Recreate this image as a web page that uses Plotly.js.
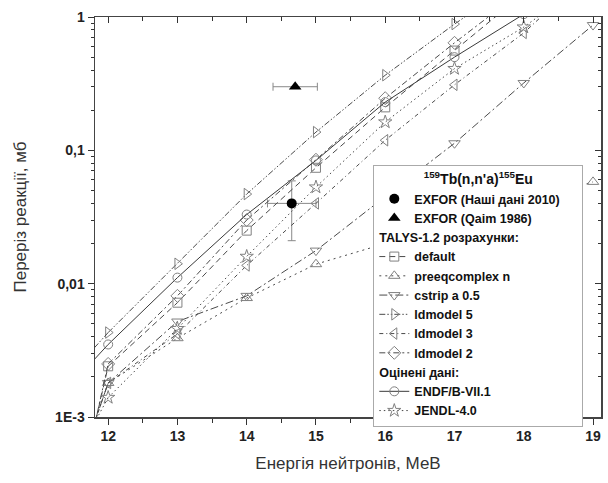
<!DOCTYPE html>
<html><head><meta charset="utf-8">
<script src="https://cdn.plot.ly/plotly-3.0.1.min.js"></script>
<style>html,body{margin:0;padding:0;background:#fff}</style>
</head><body><div id="chart" style="width:608px;height:483px"></div>
<script>
// ---- data ----
const energies = [12, 13, 14, 15, 16, 17, 18, 19];
const thresholdE = 11.8;

const talysDefault   = [0.0024, 0.0072, 0.025, 0.074, 0.21, 0.56, 1.5];
const talysPreeq     = [0.0018, 0.0039, 0.0078, 0.014, 0.020, 0.029, 0.041, 0.058];
const talysCstrip    = [0.0018, 0.0052, 0.0081, 0.0177, 0.045, 0.113, 0.32, 0.87];
const talysLd5       = [0.0043, 0.0141, 0.047, 0.137, 0.366, 0.885, 2.0];
const talysLd3       = [0.0018, 0.0042, 0.0137, 0.040, 0.119, 0.31, 0.76, 2.3];
const talysLd2       = [0.0025, 0.0081, 0.030, 0.085, 0.246, 0.64, 1.6];
const endfB71        = [0.0035, 0.0111, 0.033, 0.084, 0.23, 0.50, 1.05];
const jendl40        = [0.0014, 0.0046, 0.016, 0.053, 0.163, 0.41, 0.84, 2.0];

// values at the threshold energy (line start, no marker)
const thrDefault = 0.00085, thrPreeq = 0.0009, thrCstrip = 0.0009, thrLd5 = 0.0033,
      thrLd3 = 0.0009, thrLd2 = 0.00085, thrEndf = 0.0027, thrJendl = 0.0009;

const exforOursE = [14.65], exforOursY = [0.04], exforOursDE = [0.35], exforOursDY = [0.019];
const exforQaimE = [14.7],  exforQaimY = [0.30], exforQaimDE = [0.32];

const xTickVals = [12, 13, 14, 15, 16, 17, 18, 19];
const yTickVals = [0.001, 0.01, 0.1, 1];
const yTickText = ['1E-3', '0,01', '0,1', '1'];

// ---- build ----
const lineCol = '#4a4a4a';
const mkCol = '#808080';
const pad = '\u00a0\u00a0\u00a0\u00a0\u00a0';
const traces = [];

traces.push({
  x: exforOursE, y: exforOursY, mode: 'markers', name: 'EXFOR (Наші дані 2010)' + pad,
  legendgroup: 'exfor',
  marker: {symbol: 'circle', size: 10, color: '#000'},
  error_x: {type: 'data', array: exforOursDE, color: '#888', thickness: 1, width: 4},
  error_y: {type: 'data', array: exforOursDY, color: '#888', thickness: 1, width: 4}
});
traces.push({
  x: exforQaimE, y: exforQaimY, mode: 'markers', name: 'EXFOR (Qaim 1986)',
  legendgroup: 'exfor',
  marker: {symbol: 'triangle-up', size: 11, color: '#000'},
  error_x: {type: 'data', array: exforQaimDE, color: '#888', thickness: 1, width: 4}
});

function addSeries(vals, thr, name, group, groupTitle, symbol, dash, color, size) {
  const lineStyle = {color: color || lineCol, width: 1, dash: dash};
  const t = {
    x: energies.slice(0, vals.length), y: vals, mode: 'lines+markers', name: name,
    legendgroup: group,
    line: lineStyle,
    marker: {symbol: symbol, size: size || 9, color: mkCol, line: {width: 1, color: mkCol}}
  };
  if (groupTitle) t.legendgrouptitle = {text: groupTitle, font: {size: 12.5, weight: 'bold', color: '#111'}};
  traces.push(t);
  traces.push({
    x: [thresholdE, energies[0]], y: [thr, vals[0]], mode: 'lines', showlegend: false,
    legendgroup: group, line: lineStyle, hoverinfo: 'skip'
  });
}

addSeries(talysDefault, thrDefault, 'default', 'talys', 'TALYS-1.2 розрахунки:', 'square-open', '6px,4px');
addSeries(talysPreeq, thrPreeq, 'preeqcomplex n', 'talys', null, 'triangle-up-open', '2px,4px', null, 10);
addSeries(talysCstrip, thrCstrip, 'cstrip a 0.5', 'talys', null, 'triangle-down-open', '8px,3px,2px,3px', null, 10);
addSeries(talysLd5, thrLd5, 'ldmodel 5', 'talys', null, 'triangle-right-open', '6px,2px,1.5px,2px,1.5px,2px', null, 10);
addSeries(talysLd3, thrLd3, 'ldmodel 3', 'talys', null, 'triangle-left-open', '4px,3px,1px,3px', null, 10);
addSeries(talysLd2, thrLd2, 'ldmodel 2', 'talys', null, 'diamond-open', '6px,3px,2px,3px', null, 10);
addSeries(endfB71, thrEndf, 'ENDF/B-VII.1', 'eval', 'Оцінені дані:', 'circle-open', 'solid', '#3a3a3a');
addSeries(jendl40, thrJendl, 'JENDL-4.0', 'eval', null, 'star-open', '1.5px,3px', null, 10);

// helper trace for mirrored axes
traces.push({x: [null], y: [null], xaxis: 'x2', yaxis: 'y2', showlegend: false, hoverinfo: 'skip', mode: 'markers'});

const minorY = [];
[0.001, 0.01, 0.1].forEach(d => { for (let k = 2; k <= 9; k++) minorY.push(d * k); });
const xMinor = {dtick: 0.5, tick0: 0, ticks: 'outside', ticklen: 4, tickcolor: '#333', showgrid: false};

const axisCommon = {showgrid: false, zeroline: false, showline: true, linecolor: '#444', linewidth: 1.5,
  tickcolor: '#333', tickwidth: 1};

const layout = {
  width: 608, height: 483,
  margin: {l: 95, r: 7, t: 17, b: 66},
  paper_bgcolor: '#fff', plot_bgcolor: '#fff',
  font: {family: '"Liberation Sans", Arial, sans-serif', color: '#222'},
  showlegend: true,
  legend: {
    x: 0.55, y: 0.63, xanchor: 'left', yanchor: 'top',
    bgcolor: '#fff', bordercolor: '#aaa', borderwidth: 1,
    font: {size: 12.5, color: '#111', weight: 'bold'},
    title: {text: '<sup>159</sup>Tb(n,n\'a)<sup>155</sup>Eu', side: 'top center', font: {size: 14, weight: 'bold', color: '#111'}},
    traceorder: 'grouped', tracegroupgap: 0, itemwidth: 30
  },
  xaxis: Object.assign({}, axisCommon, {
    range: [11.81, 19.115], tickmode: 'array', tickvals: xTickVals,
    ticks: 'outside', ticklen: 6,
    tickfont: {size: 14, weight: 'bold', color: '#222'},
    minor: xMinor,
    title: {text: 'Енергія нейтронів, МеВ', font: {size: 17, color: '#333'}, standoff: 14}
  }),
  yaxis: Object.assign({}, axisCommon, {
    type: 'log', range: [-3, 0], tickmode: 'array', tickvals: yTickVals, ticktext: yTickText,
    ticks: 'outside', ticklen: 6,
    tickfont: {size: 14, weight: 'bold', color: '#222'},
    minor: {tickvals: minorY, ticks: 'outside', ticklen: 3, tickcolor: '#333', showgrid: false},
    title: {text: 'Переріз реакції, мб', font: {size: 17, color: '#333'}, standoff: 24}
  }),
  xaxis2: Object.assign({}, axisCommon, {
    overlaying: 'x', side: 'top', anchor: 'y', range: [11.81, 19.115],
    tickmode: 'array', tickvals: xTickVals, ticks: 'inside', ticklen: 6, showticklabels: false,
    minor: Object.assign({}, xMinor, {ticks: 'inside'})
  }),
  yaxis2: Object.assign({}, axisCommon, {
    overlaying: 'y', side: 'right', anchor: 'x', type: 'log', range: [-3, 0],
    tickmode: 'array', tickvals: yTickVals, ticks: 'inside', ticklen: 6, showticklabels: false,
    minor: {tickvals: minorY, ticks: 'inside', ticklen: 3, tickcolor: '#333', showgrid: false}
  })
};

Plotly.newPlot('chart', traces, layout, {staticPlot: true, displayModeBar: false});
</script>
</body></html>
